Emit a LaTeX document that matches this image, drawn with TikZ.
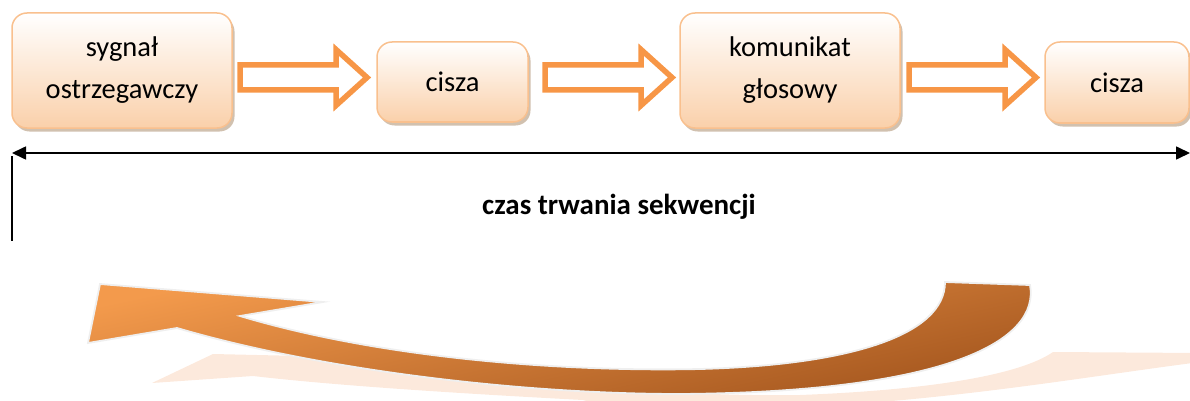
\documentclass[tikz,border=0pt]{standalone}
\usepackage{fontspec}
\setmainfont{Carlito}
\usetikzlibrary{arrows.meta,shadows}
\definecolor{boxborder}{HTML}{F9C08E}
\definecolor{boxbottom}{HTML}{FAD0AA}
\definecolor{arrorange}{HTML}{F79646}
\definecolor{bigA}{HTML}{F39A4C}
\definecolor{bigB}{HTML}{A4561E}
\definecolor{reflect}{HTML}{FCE9DC}
\definecolor{outl}{HTML}{EFEFEF}
\tikzset{
  stage/.style={rectangle, rounded corners=15pt, draw=boxborder, line width=1.5pt,
    top color=white, bottom color=boxbottom, align=center,
    font=\fontsize{28.5}{42}\selectfont, text=black, inner sep=0pt,
    drop shadow={shadow xshift=2.5pt, shadow yshift=-3.5pt, fill=brown!55!gray!70, opacity=0.7}},
  arrline/.style={draw=arrorange, line width=5.5pt, fill=white, miter limit=10},
  blockarr/.pic={\path[arrline] (0,-12.5) -- (96,-12.5) -- (96,-28) -- (127,0) -- (96,28) -- (96,12.5) -- (0,12.5) -- cycle;},
  dimline/.style={line width=1.6pt, {Triangle[length=14pt,width=13pt]}-{Triangle[length=14pt,width=13pt]}}
}
\begin{document}
\begin{tikzpicture}[x=1pt,y=-1pt]
\useasboundingbox (0,0) rectangle (1190,401);
\clip (0,0) rectangle (1190,401);
% boxes
\node[stage, minimum width=220pt, minimum height=115pt] (b1) at (122,70.5) {sygnał\\ostrzegawczy};
\node[stage, minimum width=151pt, minimum height=80pt] (b2) at (452.5,82) {cisza};
\node[stage, minimum width=220pt, minimum height=115pt] (b3) at (790,70.5) {komunikat\\głosowy};
\node[stage, minimum width=144pt, minimum height=81pt] (b4) at (1117,82.5) {cisza};
% block arrows
\pic at (240,77.5) {blockarr};
\pic at (545,77.5) {blockarr};
\pic at (909,77.5) {blockarr};
% dimension line
\coordinate (dl) at (12,153);
\coordinate (dr) at (1190,153);
\coordinate (vt) at (12,156);
\coordinate (vb) at (12,241);
\draw[dimline] (dl) -- (dr);
\draw[line width=1.4pt] (vt) -- (vb);
\node[font=\bfseries\fontsize{29}{35}\selectfont, anchor=base] (title) at (619,214) {czas trwania sekwencji};
% reflection
\fill[reflect] (213,354) -- (345,357) .. controls (500,385) and (700,397) .. (800,395)
  .. controls (930,390) and (1020,375) .. (1053,352) -- (1200,353) -- (1200,362)
  .. controls (1100,375) and (1000,392) .. (880,402) -- (600,405) -- (583,400)
  .. controls (450,393) and (330,385) .. (253,376) -- (152,383) -- cycle;
% big curved arrow
\path[draw=outl, line width=1.8pt, top color=bigA, bottom color=bigB, shading angle=12]
  (100,284) -- (323,302) -- (240,316)
  .. controls (380,358) and (560,372) .. (700,369)
  .. controls (850,365) and (945,335) .. (945,282)
  -- (1030,285)
  .. controls (1040,340) and (950,392) .. (680,394)
  .. controls (520,394) and (320,370) .. (177,328)
  -- (88,343) -- cycle;
\end{tikzpicture}
\end{document}
